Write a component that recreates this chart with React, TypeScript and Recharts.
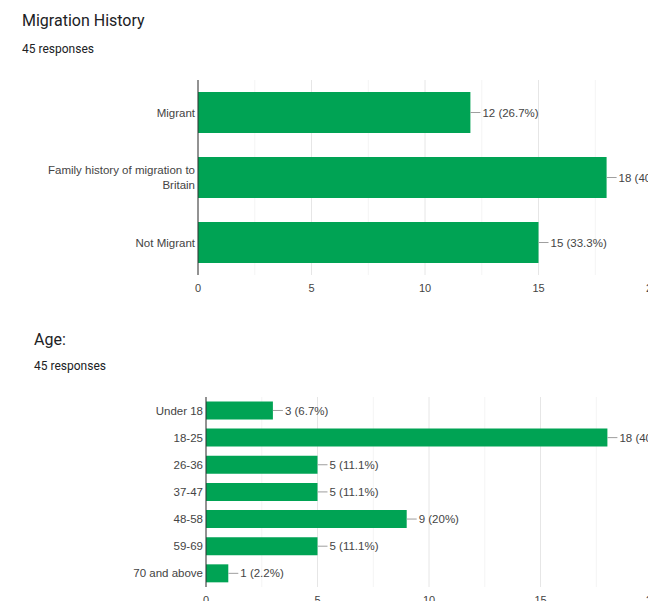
import React from 'react';
import { BarChart, Bar, XAxis, YAxis, CartesianGrid, LabelList } from 'recharts';

// Migration History
const migrationCategories = ['Migrant', 'Family history of migration to Britain', 'Not Migrant'];
const migrationCounts = [12, 18, 15];
const migrationPercents = ['26.7%', '40%', '33.3%'];

// Age
const ageCategories = ['Under 18', '18-25', '26-36', '37-47', '48-58', '59-69', '70 and above'];
const ageCounts = [3, 18, 5, 5, 9, 5, 1];
const agePercents = ['6.7%', '40%', '11.1%', '11.1%', '20%', '11.1%', '2.2%'];

const xTicks = [0, 5, 10, 15, 20];
const minorTicks = [2.5, 7.5, 12.5, 17.5];
const responses = 45;

const GREEN = '#00a354';
const FONT = 'Arial, "Liberation Sans", sans-serif';
const labelStyle = { fontSize: 11.5, fontFamily: FONT };
const MAX_CHARS = 30;
const LINE_H = 15;

const migrationData = migrationCategories.map((name, i) => ({
  name,
  count: migrationCounts[i],
  label: `${migrationCounts[i]} (${migrationPercents[i]})`,
}));

const ageData = ageCategories.map((name, i) => ({
  name,
  count: ageCounts[i],
  label: `${ageCounts[i]} (${agePercents[i]})`,
}));

// greedy word wrap, like the google forms labels
function wrap(s: string) {
  const lines: string[] = [];
  let cur = '';
  s.split(' ').forEach((w) => {
    const next = cur ? cur + ' ' + w : w;
    if (next.length > MAX_CHARS && cur) {
      lines.push(cur);
      cur = w;
    } else {
      cur = next;
    }
  });
  if (cur) lines.push(cur);
  return lines;
}

const CategoryTick = (props: any) => {
  const { x, y, payload } = props;
  const lines = wrap(String(payload.value));
  const y0 = y - ((lines.length - 1) * LINE_H) / 2;
  return (
    <text x={x} y={y0} textAnchor="end" style={labelStyle} fill="#444">
      {lines.map((l, i) => (
        <tspan key={i} x={x} y={y0 + i * LINE_H} dy="0.35em">
          {l}
        </tspan>
      ))}
    </text>
  );
};

const ValueLabel = (props: any) => {
  const { x, y, width, height, value } = props;
  const ex = Number(x) + Number(width);
  const cy = Number(y) + Number(height) / 2;
  return (
    <g>
      <line x1={ex} x2={ex + 10} y1={cy} y2={cy} stroke="#9e9e9e" />
      <text x={ex + 12} y={cy} dy="0.35em" style={labelStyle} fill="#444">
        {value}
      </text>
    </g>
  );
};

const HBarChart = ({ data, height, top, axisLeft, gap }: any) => (
  <BarChart
    width={700}
    height={height}
    data={data}
    layout="vertical"
    barCategoryGap={gap}
    margin={{ top, right: 48, left: 0, bottom: 0 }}
  >
    <CartesianGrid horizontal={false} verticalValues={minorTicks} stroke="#f4f4f4" />
    <CartesianGrid horizontal={false} verticalValues={xTicks} stroke="#e6e6e6" />
    <XAxis
      type="number"
      domain={[0, 20]}
      ticks={xTicks}
      axisLine={false}
      tickLine={false}
      tickSize={0}
      tickMargin={9}
      height={30}
      tick={{ fontSize: 11, fill: '#444', fontFamily: FONT }}
    />
    <YAxis
      type="category"
      dataKey="name"
      width={axisLeft}
      axisLine={{ stroke: '#333' }}
      tickLine={false}
      tickSize={0}
      tickMargin={3}
      tick={<CategoryTick />}
    />
    <Bar dataKey="count" fill={GREEN} isAnimationActive={false}>
      <LabelList dataKey="label" content={<ValueLabel />} />
    </Bar>
  </BarChart>
);

const titleStyle: React.CSSProperties = {
  position: 'absolute',
  fontFamily: 'Roboto, Arial, sans-serif',
  fontSize: 16,
  color: '#202124',
  lineHeight: '20px',
};

const subStyle: React.CSSProperties = {
  position: 'absolute',
  fontFamily: 'Roboto, Arial, sans-serif',
  fontSize: 12,
  color: '#202124',
  lineHeight: '14px',
};

export default function App() {
  return (
    <div
      style={{
        position: 'absolute',
        left: 0,
        top: 0,
        width: 648,
        height: 601,
        overflow: 'hidden',
        background: '#fff',
      }}
    >
      <div style={{ ...titleStyle, left: 22, top: 11 }}>Migration History</div>
      <div style={{ ...subStyle, left: 22, top: 42 }}>{responses} responses</div>
      <div style={{ position: 'absolute', left: 0, top: 0 }}>
        <HBarChart data={migrationData} height={305} top={80} axisLeft={198} gap="18.5%" />
      </div>

      <div style={{ ...titleStyle, left: 34, top: 330 }}>Age:</div>
      <div style={{ ...subStyle, left: 34, top: 359 }}>{responses} responses</div>
      <div style={{ position: 'absolute', left: 0, top: 300 }}>
        <HBarChart data={ageData} height={317} top={97} axisLeft={206} gap="16.5%" />
      </div>
    </div>
  );
}
